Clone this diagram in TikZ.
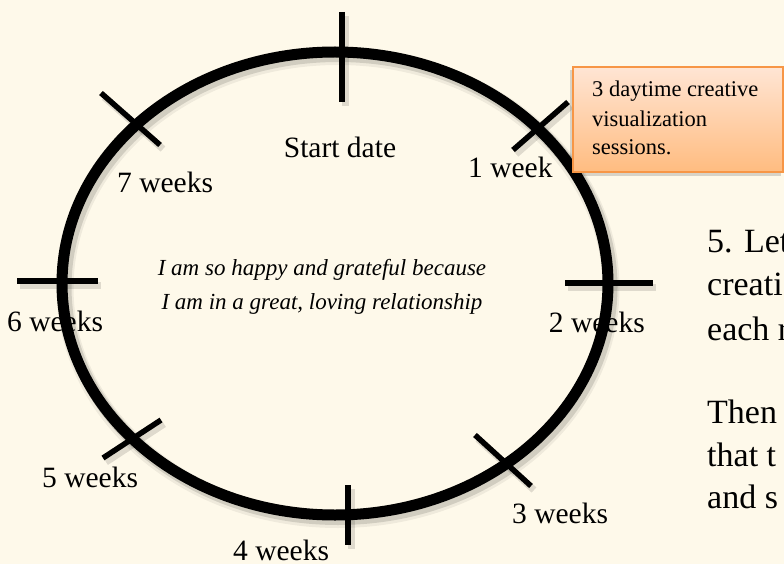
\documentclass[tikz,border=0pt]{standalone}
\usepackage{fontspec}
\setmainfont{Liberation Serif}
\definecolor{bgcream}{RGB}{254,249,234}
\definecolor{boxtop}{RGB}{255,229,212}
\definecolor{boxbot}{RGB}{255,188,128}
\definecolor{boxline}{RGB}{247,150,70}
\tikzset{
  ring/.style={draw=black, line width=11pt},
  ringshadow/.style={draw=black, line width=13pt, opacity=0.12},
  tick/.style={draw=black, line width=5.5pt},
  tickshadow/.style={draw=black, line width=7pt, opacity=0.12},
  lbl/.style={inner sep=0pt, font=\fontsize{29.5}{34}\selectfont},
  quote/.style={inner sep=0pt, font=\fontsize{23}{27}\selectfont\itshape},
  side/.style={inner sep=0pt, anchor=base west, font=\fontsize{34}{40}\selectfont},
  notetext/.style={inner sep=0pt, anchor=base west, font=\fontsize{22.5}{29}\selectfont},
  notebox/.style={draw=boxline, line width=1.5pt, top color=boxtop, bottom color=boxbot}
}
\begin{document}
\begin{tikzpicture}[x=1pt,y=-1pt]
\useasboundingbox (0,0) rectangle (784,564);
\fill[bgcream] (0,0) rectangle (784,564);
\clip (0,0) rectangle (784,564);
% ring shadow
\draw[ringshadow] (338,287) ellipse [x radius=273pt, y radius=231.5pt];
\draw[ringshadow, line width=17pt, opacity=0.06] (338,288) ellipse [x radius=273pt, y radius=231.5pt];
% tick coordinates
\coordinate (t0a) at (342,12);  \coordinate (t0b) at (342,102);
\coordinate (t1a) at (513,150); \coordinate (t1b) at (568,102);
\coordinate (t2a) at (565,283); \coordinate (t2b) at (653,283);
\coordinate (t3a) at (475,435); \coordinate (t3b) at (531,486);
\coordinate (t4a) at (348,485); \coordinate (t4b) at (348,545);
\coordinate (t5a) at (103,458); \coordinate (t5b) at (161,420);
\coordinate (t6a) at (17,281);  \coordinate (t6b) at (98,281);
\coordinate (t7a) at (101,93);  \coordinate (t7b) at (160,145);
% tick shadows
\foreach \i in {0,...,7} { \draw[tickshadow] ([shift={(3,4)}]t\i a) -- ([shift={(3,4)}]t\i b); }
% ring
\draw[ring] (335,283.5) ellipse [x radius=273pt, y radius=231.5pt];
% ticks
\foreach \i in {0,...,7} { \draw[tick] (t\i a) -- (t\i b); }
% labels
\node[lbl, anchor=base] (start) at (340,158) {Start date};
\node[lbl, anchor=base west] (w1) at (468,178) {1 week};
\node[lbl, anchor=base east] (w2) at (645,332) {2 weeks};
\node[lbl, anchor=base west] (w3) at (512,523) {3 weeks};
\node[lbl, anchor=base west] (w4) at (233,560) {4 weeks};
\node[lbl, anchor=base west] (w5) at (42,487) {5 weeks};
\node[lbl, anchor=base west] (w6) at (7,331) {6 weeks};
\node[lbl, anchor=base west] (w7) at (117,193) {7 weeks};
% quote
\node[quote, anchor=base] (q1) at (322,275) {I am so happy and grateful because};
\node[quote, anchor=base] (q2) at (322,309) {I am in a great, loving relationship};
% orange note box
\fill[black, opacity=0.15] (570,70) rectangle (781,176);
\path[notebox] (573,67) rectangle (783,172);
\node[notetext] (n1) at (592,97) {3 daytime creative};
\node[notetext] (n2) at (592,127) {visualization};
\node[notetext] (n3) at (592,155) {sessions.};
% right-hand text (cut by the picture edge)
\node[side] (r1) at (707,252) {5. Let};
\node[side] (r2) at (707,295) {creati};
\node[side] (r3) at (707,340) {each r};
\node[side] (r4) at (707,423) {Then};
\node[side] (r5) at (707,466) {that t};
\node[side] (r6) at (707,508) {and s};
\end{tikzpicture}
\end{document}
